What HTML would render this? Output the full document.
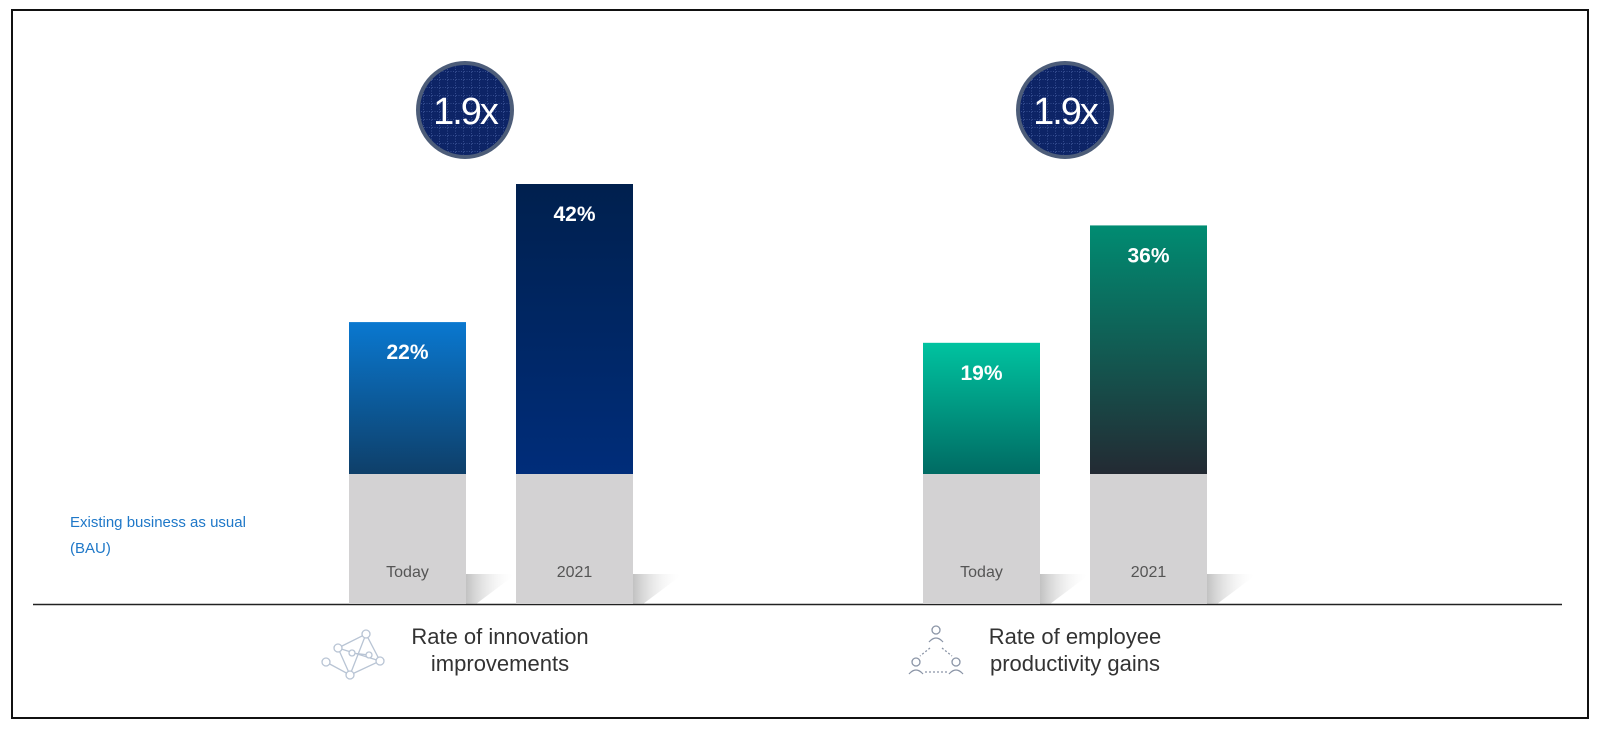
<!DOCTYPE html>
<html><head><meta charset="utf-8"><style>
html,body{margin:0;padding:0;background:#fff;width:1600px;height:744px;overflow:hidden}
svg{display:block;font-family:"Liberation Sans",sans-serif}
</style></head><body>
<svg id="chart" width="1600" height="744">
<defs>
<linearGradient id="g1" x1="0" y1="0" x2="0" y2="1"><stop offset="0" stop-color="#0a78d0"/><stop offset="1" stop-color="#0e3f69"/></linearGradient>
<linearGradient id="g2" x1="0" y1="0" x2="0" y2="1"><stop offset="0" stop-color="#00204e"/><stop offset="1" stop-color="#002d7a"/></linearGradient>
<linearGradient id="g3" x1="0" y1="0" x2="0" y2="1"><stop offset="0" stop-color="#00c3a0"/><stop offset="1" stop-color="#006b63"/></linearGradient>
<linearGradient id="g4" x1="0" y1="0" x2="0" y2="1"><stop offset="0" stop-color="#008c72"/><stop offset="1" stop-color="#232a33"/></linearGradient>
<linearGradient id="sh" x1="0" y1="0" x2="1" y2="0"><stop offset="0" stop-color="#999" stop-opacity="0.6"/><stop offset="1" stop-color="#fff" stop-opacity="0"/></linearGradient>
<pattern id="grid" width="8" height="8" patternUnits="userSpaceOnUse"><path d="M8 0V8M0 8H8" stroke="#5a73b8" stroke-width="1" stroke-dasharray="1 1.5" fill="none"/></pattern>
</defs>
<rect x="12" y="10" width="1576" height="708" fill="#fff" stroke="#111" stroke-width="2"/>
<line x1="33" y1="604.5" x2="1562" y2="604.5" stroke="#222" stroke-width="1.5"/>
<text x="70" y="527" font-size="15" fill="#1f78c8">Existing business as usual</text>
<text x="70" y="553" font-size="15" fill="#1f78c8">(BAU)</text>
<g id="bars"></g>
<g>
<g stroke="#b8c4d4" stroke-width="1.3" fill="#fff">
<path d="M338 648L366 634L380 661L350 675L338 648M366 634L350 675M338 648L380 661M326 662L350 675L366 634M352 653L369 655"/>
<circle cx="338" cy="648" r="4"/><circle cx="366" cy="634" r="4"/><circle cx="380" cy="661" r="4"/><circle cx="350" cy="675" r="4"/><circle cx="326" cy="662" r="4"/><circle cx="352" cy="653" r="3"/><circle cx="369" cy="655" r="3"/>
</g>
<text x="500" y="644" font-size="22" fill="#333" text-anchor="middle">Rate of innovation</text>
<text x="500" y="671" font-size="22" fill="#333" text-anchor="middle">improvements</text>
</g>
<g>
<g stroke="#8a94a6" stroke-width="1.3" fill="none">
<circle cx="936" cy="630" r="4"/><path d="M929 642q7-8 14 0"/>
<circle cx="916" cy="662" r="4"/><path d="M909 674q7-8 14 0"/>
<circle cx="956" cy="662" r="4"/><path d="M949 674q7-8 14 0"/>
<path d="M930 648L920 656M942 648L952 656M925 672H947" stroke-dasharray="2 2"/>
</g>
<text x="1075" y="644" font-size="22" fill="#333" text-anchor="middle">Rate of employee</text>
<text x="1075" y="671" font-size="22" fill="#333" text-anchor="middle">productivity gains</text>
</g>
</svg>
<script>
const categories = ["Today","2021","Today","2021"];
const values = [22,42,19,36];
const valueLabels = ["22%","42%","19%","36%"];
const multipliers = ["1.9x","1.9x"];
const NS="http://www.w3.org/2000/svg";
const baseTop=474, baseBottom=604, pxPer=290/42;
const xs=[349,516,923,1090], bw=117, fills=["url(#g1)","url(#g2)","url(#g3)","url(#g4)"];
function y(v){return baseTop - v*pxPer;}
const g=document.getElementById('bars');
function mk(tag,attrs){const e=document.createElementNS(NS,tag);for(const k in attrs)e.setAttribute(k,attrs[k]);g.appendChild(e);return e;}
values.forEach((v,i)=>{
  const x=xs[i];
  const s=mk('path',{d:`M${x+bw} ${baseBottom-30}L${x+bw+50} ${baseBottom-30}L${x+bw+10} ${baseBottom}L${x+bw} ${baseBottom}Z`,fill:'url(#sh)'});
  
  
  const b=mk('rect',{x:x,y:baseTop,width:bw,height:baseBottom-baseTop,fill:'#d3d2d3'});
  
  
  const r=mk('rect',{x:x,y:y(v),width:bw,height:baseTop-y(v),fill:fills[i]});
  
  
  const t=mk('text',{x:x+bw/2,y:y(v)+37,'font-size':21,'font-weight':'bold',fill:'#fff','text-anchor':'middle'});
  t.textContent=valueLabels[i];
  
  
  const c=mk('text',{x:x+bw/2,y:577,'font-size':16,fill:'#555','text-anchor':'middle'});
  c.textContent=categories[i];
  
  
});
[465,1065].forEach((cx,i)=>{
  const c=mk('circle',{cx:cx,cy:110,r:47,fill:'#0d2466',stroke:'#4d5d79','stroke-width':4});
  
  
  const p=mk('circle',{cx:cx,cy:110,r:45,fill:'url(#grid)'});
  
  
  const t=mk('text',{x:cx,y:124,'font-size':38,fill:'#fff','text-anchor':'middle','letter-spacing':'-2'});
  t.textContent=multipliers[i];
  
  
});
</script>
</body></html>
